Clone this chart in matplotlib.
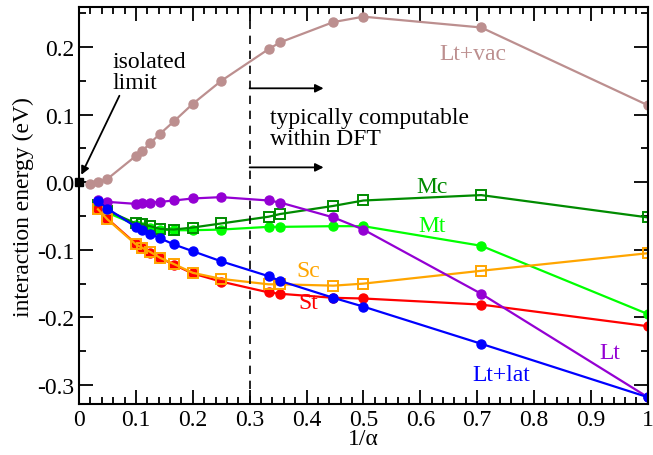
import matplotlib
matplotlib.use("Agg")
import matplotlib.pyplot as plt
from matplotlib.ticker import MultipleLocator

plt.rcParams['font.family'] = ['Liberation Serif', 'DejaVu Serif']

# 1/alpha values
x_vac = [0.02, 0.0333, 0.05, 0.1, 0.1111, 0.125, 0.1429, 0.1667, 0.2, 0.25,
         0.3333, 0.3536, 0.4472, 0.5, 0.7071, 1.0]
x_all = [0.0333, 0.05, 0.1, 0.1111, 0.125, 0.1429, 0.1667, 0.2, 0.25,
         0.3333, 0.3536, 0.4472, 0.5, 0.7071, 1.0]

lt_vac = [-0.003, 0.0, 0.005, 0.039, 0.046, 0.058, 0.072, 0.090, 0.116, 0.150,
          0.197, 0.207, 0.237, 0.245, 0.229, 0.114]
mt = [-0.033, -0.045, -0.063, -0.066, -0.068, -0.070, -0.071, -0.071, -0.070,
      -0.066, -0.066, -0.065, -0.065, -0.094, -0.195]
mc = [-0.034, -0.042, -0.061, -0.062, -0.065, -0.069, -0.070, -0.067, -0.061,
      -0.051, -0.047, -0.035, -0.027, -0.019, -0.052]
st = [-0.040, -0.054, -0.091, -0.097, -0.104, -0.112, -0.122, -0.135, -0.147,
      -0.163, -0.165, -0.171, -0.172, -0.181, -0.213]
sc = [-0.040, -0.055, -0.092, -0.097, -0.103, -0.112, -0.121, -0.134, -0.143,
      -0.151, -0.151, -0.153, -0.150, -0.131, -0.105]
lt = [-0.026, -0.029, -0.032, -0.031, -0.030, -0.029, -0.027, -0.024, -0.022,
      -0.027, -0.030, -0.052, -0.070, -0.165, -0.318]
lt_lat = [-0.028, -0.039, -0.066, -0.070, -0.076, -0.083, -0.092, -0.102, -0.117,
          -0.139, -0.146, -0.171, -0.184, -0.239, -0.318]

xticks = [0, 0.1, 0.2, 0.3, 0.4, 0.5, 0.6, 0.7, 0.8, 0.9, 1.0]
xticklabels = ['0', '0.1', '0.2', '0.3', '0.4', '0.5', '0.6', '0.7', '0.8', '0.9', '1']
yticks = [-0.3, -0.2, -0.1, 0.0, 0.1, 0.2]
yticklabels = ['-0.3', '-0.2', '-0.1', '0.0', '0.1', '0.2']

fig = plt.figure(figsize=(6.53, 4.56), dpi=100)
ax = fig.add_axes([0.121, 0.112, 0.871, 0.870])

lw = 1.6
ax.plot(x_vac, lt_vac, '-o', color='#bc8f8f', lw=lw, ms=6.5)
ax.plot(x_all, mt, '-o', color='#00ff00', lw=lw, ms=6.5)
ax.plot(x_all, mc, '-s', color='#008b00', lw=lw, ms=7, mfc='none', mew=1.4)
ax.plot(x_all, st, '-o', color='#ff0000', lw=lw, ms=6.5)
ax.plot(x_all, sc, '-s', color='#ffa500', lw=lw, ms=7, mfc='none', mew=1.4)
ax.plot(x_all, lt, '-o', color='#9400d3', lw=lw, ms=6.5)
ax.plot(x_all, lt_lat, '-o', color='#0000ff', lw=lw, ms=6.5)

ax.plot([0], [0], 's', color='black', ms=6, clip_on=False, zorder=10)

ax.axvline(0.3, color='black', ls=(0, (5, 4)), lw=1.2)
arrow = dict(arrowstyle='-|>', color='black', lw=1.3, mutation_scale=12,
             shrinkA=0, shrinkB=0)
ax.annotate('', xy=(0.43, 0.139), xytext=(0.3, 0.139), arrowprops=arrow)
ax.annotate('', xy=(0.43, 0.022), xytext=(0.3, 0.022), arrowprops=arrow)
ax.annotate('', xy=(0.004, 0.011), xytext=(0.071, 0.128), arrowprops=arrow)

fs = 17
ax.text(0.058, 0.132, 'isolated\nlimit', fontsize=fs, ha='left', va='bottom',
        linespacing=1.0)
ax.text(0.336, 0.08, 'typically computable\nwithin DFT', fontsize=fs,
        ha='left', va='center', linespacing=1.0)

ax.text(0.693, 0.190, 'Lt+vac', color='#bc8f8f', fontsize=fs, ha='center', va='center')
ax.text(0.62, -0.006, 'Mc', color='#008b00', fontsize=fs, ha='center', va='center')
ax.text(0.62, -0.064, 'Mt', color='#00ff00', fontsize=fs, ha='center', va='center')
ax.text(0.403, -0.131, 'Sc', color='#ffa500', fontsize=fs, ha='center', va='center')
ax.text(0.403, -0.178, 'St', color='#ff0000', fontsize=fs, ha='center', va='center')
ax.text(0.933, -0.252, 'Lt', color='#9400d3', fontsize=fs, ha='center', va='center')
ax.text(0.743, -0.284, 'Lt+lat', color='#0000ff', fontsize=fs, ha='center', va='center')

ax.set_xlim(0, 1)
ax.set_ylim(-0.328, 0.259)
ax.set_xticks(xticks)
ax.set_xticklabels(xticklabels)
ax.set_yticks(yticks)
ax.set_yticklabels(yticklabels)
ax.xaxis.set_minor_locator(MultipleLocator(0.02))
ax.yaxis.set_minor_locator(MultipleLocator(0.05))
ax.tick_params(which='both', direction='in', top=True, right=True,
               labelsize=fs, width=1.3)
ax.tick_params(which='major', length=10)
ax.tick_params(which='minor', length=5)
for s in ax.spines.values():
    s.set_linewidth(1.5)

ax.set_xlabel('1/α', fontsize=fs, labelpad=-1)
ax.set_ylabel('interaction energy (eV)', fontsize=fs, labelpad=2)

fig.savefig('out.png', dpi=100)
